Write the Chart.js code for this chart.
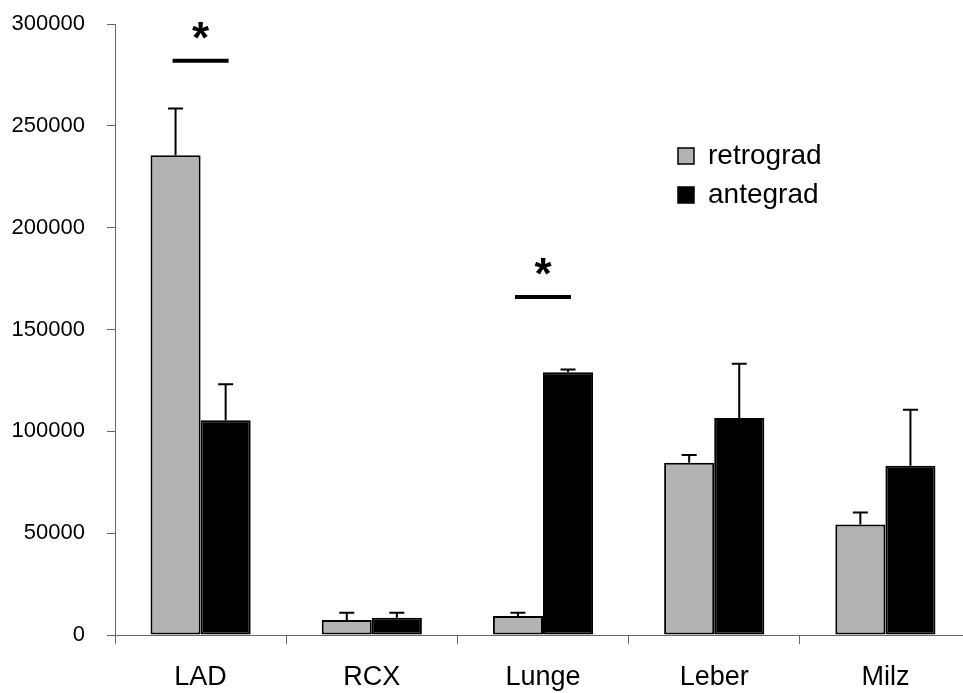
<!DOCTYPE html>
<html>
<head>
<meta charset="utf-8">
<script src="https://cdn.jsdelivr.net/npm/chart.js@4.4.1/dist/chart.umd.min.js"></script>
<style>
  html, body { margin: 0; padding: 0; background: #fff; overflow: hidden; }
  #myChart { display: block; }
</style>
</head>
<body>
<canvas id="myChart" width="971" height="693"></canvas>
<script>
const categories = ['LAD', 'RCX', 'Lunge', 'Leber', 'Milz'];
const retroValues = [235500, 7400, 9300, 84600, 54200];
const retroErr = [23000, 3500, 1600, 3800, 6000];
const anteValues = [105500, 8500, 129000, 106500, 83100];
const anteErr = [17600, 2400, 1400, 26700, 27500];
const yTicks = [0, 50000, 100000, 150000, 200000, 250000, 300000];
const sigCategories = ['LAD', 'Lunge'];
const sigLevels = [282000, 166000];

const FONT = '"Liberation Sans", Arial, Helvetica, sans-serif';

// error bars (upper whisker only), significance markers and the legend
const extras = {
    id: 'extras',
    afterDatasetsDraw(chart) {
        const ctx = chart.ctx;
        const x = chart.scales.x;
        const y = chart.scales.y;
        const errs = [retroErr, anteErr];
        ctx.save();
        ctx.strokeStyle = '#000';
        ctx.lineWidth = 2;
        chart.data.datasets.forEach((ds, di) => {
            chart.getDatasetMeta(di).data.forEach((bar, i) => {
                const top = y.getPixelForValue(ds.data[i] + errs[di][i]);
                ctx.beginPath();
                ctx.moveTo(bar.x, bar.y);
                ctx.lineTo(bar.x, top);
                ctx.moveTo(bar.x - 7.5, top);
                ctx.lineTo(bar.x + 7.5, top);
                ctx.stroke();
            });
        });

        ctx.lineWidth = 4;
        ctx.fillStyle = '#000';
        ctx.font = 'bold 44px ' + FONT;
        ctx.textAlign = 'center';
        ctx.textBaseline = 'middle';
        sigCategories.forEach((c, i) => {
            const cx = x.getPixelForValue(categories.indexOf(c));
            const ly = y.getPixelForValue(sigLevels[i]);
            ctx.beginPath();
            ctx.moveTo(cx - 28, ly);
            ctx.lineTo(cx + 28, ly);
            ctx.stroke();
            ctx.fillText('*', cx, ly - 20);
        });

        // legend
        ctx.lineWidth = 1.5;
        ctx.font = '28px ' + FONT;
        ctx.textAlign = 'left';
        chart.data.datasets.forEach((ds, di) => {
            const ly = 148 + di * 39;
            ctx.fillStyle = ds.backgroundColor;
            ctx.fillRect(678, ly, 16, 16);
            ctx.strokeRect(678, ly, 16, 16);
            ctx.fillStyle = '#000';
            ctx.fillText(ds.label, 708, ly + 8);
        });
        ctx.restore();
    }
};

new Chart('myChart', {
    type: 'bar',
    data: {
        labels: categories,
        datasets: [{
            label: 'retrograd',
            data: retroValues,
            backgroundColor: '#b3b3b3',
            borderColor: '#000',
            borderWidth: 2,
            borderSkipped: false
        }, {
            label: 'antegrad',
            data: anteValues,
            backgroundColor: '#000',
            borderColor: '#000',
            borderWidth: 2,
            borderSkipped: false
        }]
    },
    options: {
        responsive: false,
        animation: false,
        layout: { padding: { top: 24, left: 0, right: 0, bottom: 0 } },
        datasets: { bar: { barPercentage: 1, categoryPercentage: 0.585 } },
        plugins: {
            legend: { display: false },
            tooltip: { enabled: false }
        },
        scales: {
            x: {
                offset: true,
                grid: { offset: true, drawOnChartArea: false, drawTicks: true, tickLength: 9, color: '#666' },
                border: { color: '#666', width: 1 },
                ticks: { color: '#000', font: { family: FONT, size: 27 }, padding: 17, maxRotation: 0 },
                afterFit(scale) { scale.height = 58; }
            },
            y: {
                min: 0,
                max: 300000,
                afterBuildTicks(scale) { scale.ticks = yTicks.map(v => ({ value: v })); },
                grid: { drawOnChartArea: false, drawTicks: true, tickLength: 8, color: '#666' },
                border: { color: '#666', width: 1 },
                ticks: { color: '#000', font: { family: FONT, size: 22 }, padding: 22, callback: v => String(v) },
                afterFit(scale) {
                    scale.width = 115;
                    scale.paddingTop = 0;
                    scale.paddingBottom = 0;
                }
            }
        }
    },
    plugins: [extras]
});
</script>
</body>
</html>
